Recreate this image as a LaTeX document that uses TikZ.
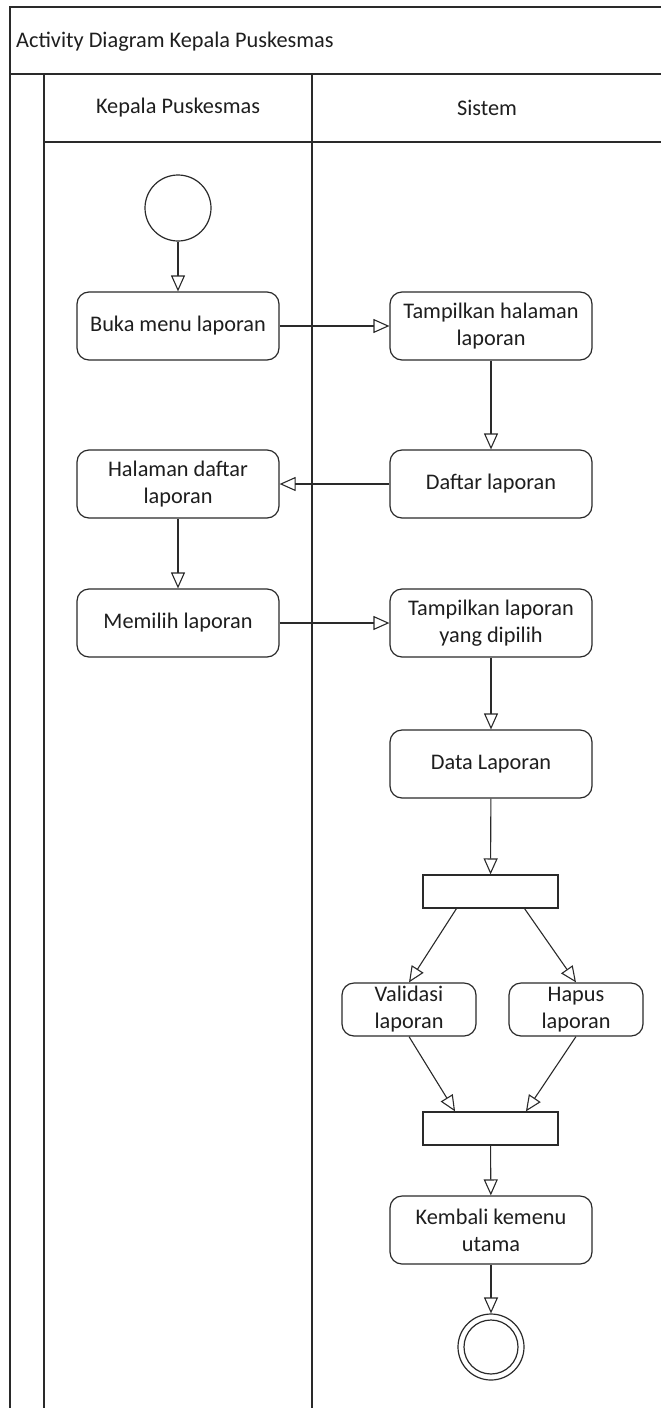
\documentclass[tikz,border=0pt]{standalone}
\usepackage{fontspec}
\setmainfont{Carlito}
\usetikzlibrary{arrows.meta,calc}
\definecolor{ink}{HTML}{2A2A2A}
\definecolor{txt}{HTML}{1E1E1E}
\tikzset{
  frame/.style={draw=ink, line width=1.7pt},
  lbl/.style={text=txt, font=\fontsize{22.3}{27}\selectfont, inner sep=0pt},
  act/.style={draw=ink, line width=1.2pt, rounded corners=12pt, fill=white,
    minimum width=202pt, minimum height=68pt, inner sep=0pt, align=center,
    text=txt, font=\fontsize{22.3}{27}\selectfont},
  actsmall/.style={act, minimum width=134pt, minimum height=53pt},
  syncbar/.style={draw=ink, line width=1.2pt, fill=white, minimum width=135pt,
    minimum height=33pt, inner sep=0pt},
  initial/.style={draw=ink, line width=1.2pt, circle, minimum size=66pt, inner sep=0pt},
  final/.style={draw=ink, line width=1.2pt, circle, minimum size=66pt, inner sep=0pt},
  flow/.style={draw=ink, line width=1.1pt,
    -{Triangle[open, length=16pt, width=14pt, line width=1.1pt]}},
}
\begin{document}
\begin{tikzpicture}[x=1pt, y=-1pt]
  \useasboundingbox (0,0) rectangle (661,1408);

  % swimlane frame
  \draw[frame] (10,1410) -- (10,7) -- (663,7);
  \draw[frame] (10,74) -- (663,74);
  \draw[frame] (44,1410) -- (44,74);
  \draw[frame] (44,142) -- (663,142);
  \draw[frame] (312,74) -- (312,1410);

  % titles
  \node[lbl, anchor=west] (title) at (16,42) {Activity Diagram Kepala Puskesmas};
  \node[lbl] (laneA) at (178,108) {Kepala Puskesmas};
  \node[lbl] (laneB) at (487,108) {Sistem};

  % activities
  \node[initial] (start) at (178,208) {};
  \node[act] (buka) at (178,326) {Buka menu laporan};
  \node[act] (tampil) at (491,326) {Tampilkan halaman\\laporan};
  \node[act] (daftar) at (491,484) {Daftar laporan};
  \node[act] (halaman) at (178,484) {Halaman daftar\\laporan};
  \node[act] (pilih) at (178,623) {Memilih laporan};
  \node[act] (tampil2) at (491,623) {Tampilkan laporan\\yang dipilih};
  \node[act] (data) at (491,764) {Data Laporan};
  \node[syncbar] (fork) at (490.5,891.5) {};
  \node[actsmall] (valid) at (409,1009.5) {Validasi\\laporan};
  \node[actsmall] (hapus) at (576,1009.5) {Hapus\\laporan};
  \node[syncbar] (join) at (490.5,1128.5) {};
  \node[act] (kembali) at (491,1230) {Kembali kemenu\\utama};
  \node[final] (end) at (491,1347) {};
  \draw[draw=ink, line width=1.2pt] (end.center) circle[radius=27pt];

  % flows
  \draw[flow] (start) -- (buka);
  \draw[flow] (buka) -- (tampil);
  \draw[flow] (tampil) -- (daftar);
  \draw[flow] (daftar) -- (halaman);
  \draw[flow] (halaman) -- (pilih);
  \draw[flow] (pilih) -- (tampil2);
  \draw[flow] (tampil2) -- (data);
  \draw[flow] (data) -- (fork);
  \draw[flow] ($(fork.south west)!0.25!(fork.south east)$) -- (valid.north);
  \draw[flow] ($(fork.south west)!0.75!(fork.south east)$) -- (hapus.north);
  \draw[flow] (valid.south) -- ($(join.north west)!0.24!(join.north east)$);
  \draw[flow] (hapus.south) -- ($(join.north west)!0.76!(join.north east)$);
  \draw[flow] (join) -- (kembali);
  \draw[flow] (kembali) -- (end);
\end{tikzpicture}
\end{document}
